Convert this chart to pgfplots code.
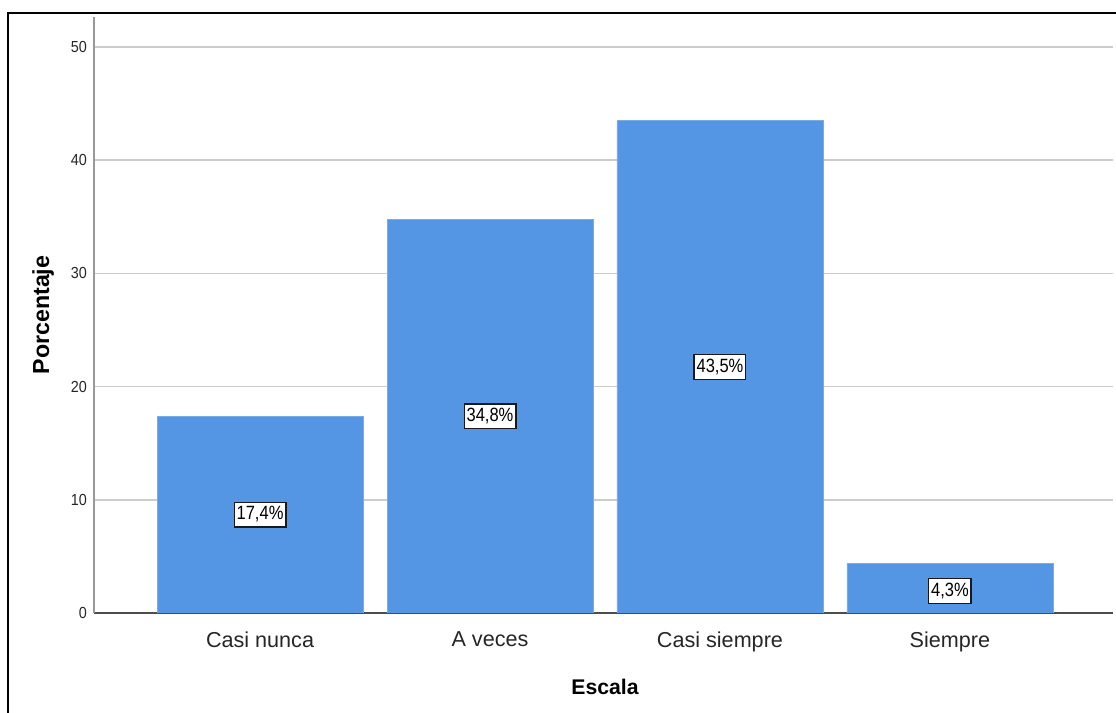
\documentclass[border=0pt]{standalone}
\usepackage{fontspec}
\setmainfont{Liberation Sans}
\newfontfamily\narrowfont[FakeStretch=0.9]{Liberation Sans}
\newfontfamily\boxfont[FakeStretch=0.86]{Liberation Sans}
\usepackage{pgfplots}
\pgfplotsset{compat=1.18}
\definecolor{barblue}{RGB}{85,150,228}
\begin{document}
\begin{tikzpicture}[x=1pt,y=1pt]
\begin{axis}[
  scale only axis, width=509.5pt, height=298pt,
  xmin=-0.722, xmax=3.709, ymin=0, ymax=52.65,
  ybar, bar width=103pt, bar shift=0pt,
  axis lines*=left,
  x axis line style={draw=black!70, line width=0.6pt},
  y axis line style={draw=black!40, line width=0.9pt},
  ymajorgrids, grid style={draw=black!20, line width=0.8pt},
  ytick={0,10,20,30,40,50},
  xtick={0,1,2,3},
  xticklabels={Casi nunca, A veces, Casi siempre, Siempre},
  tick style={draw=none},
  /pgf/number format/assume math mode=true,
  yticklabel style={font=\narrowfont\fontsize{8}{9}\selectfont, text=black!85},
  xticklabel style={font=\fontsize{10.8}{12}\selectfont, text=black!85, yshift=-1.5pt},
  xlabel={Escala}, ylabel={Porcentaje},
  xlabel style={font=\bfseries\fontsize{10.6}{12}\selectfont, at={(axis description cs:0.5015,-0.124)}, anchor=center},
  ylabel style={font=\bfseries\fontsize{11.6}{13}\selectfont, at={(axis description cs:-0.05,0.5)}, anchor=center, rotate=0},
]
\addplot[fill=barblue, draw=barblue!80!white] coordinates {(0,17.39) (1,34.78) (2,43.48) (3,4.35)};
\coordinate (O) at (rel axis cs:0,0);
\begin{scope}[every node/.style={draw=black!90, line width=0.7pt, fill=white, inner xsep=1.2pt, inner ysep=2.2pt, font=\boxfont\fontsize{9.6}{10}\selectfont}]
\node at (axis cs:0,8.7) {17,4\%};
\node at (axis cs:1,17.39) {34,8\%};
\node at (axis cs:2,21.74) {43,5\%};
\node at (axis cs:3,1.95) {4,3\%};
\end{scope}
\end{axis}
\pgfresetboundingbox
\begin{scope}[shift={(O)}]
\path[use as bounding box] (-47,-50) rectangle (511,306.5);
\draw[line width=1.1pt] (-43,-60) -- (-43,300) -- (520,300);
\end{scope}
\end{tikzpicture}
\end{document}
